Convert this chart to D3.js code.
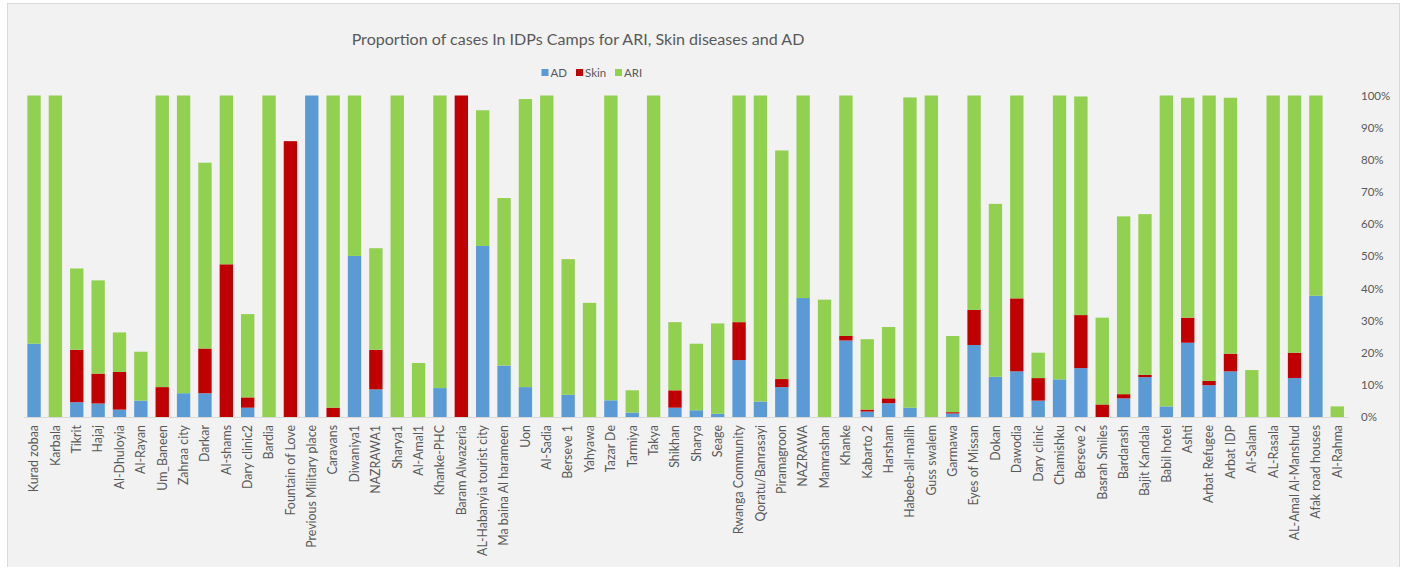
<!DOCTYPE html>
<html>
<head>
<meta charset="utf-8">
<script src="https://cdnjs.cloudflare.com/ajax/libs/d3/7.8.5/d3.min.js"></script>
<style>
  html, body { margin: 0; padding: 0; background: #ffffff; }
  svg { display: block; }
  text { font-family: Lato, "Liberation Sans", sans-serif; fill: #595959; }
</style>
</head>
<body>
<svg id="chart" width="1406" height="567"></svg>
<script>
const categories = [
  "Kurad zobaa","Karbala","Tikrit","Hajaj","Al-Dhuloyia","Al-Rayan","Um_Baneen","Zahraa city","Darkar","Al-shams",
  "Dary clinic2","Bardia","Fountain of Love","Previous Military place","Caravans","Diwaniya1","NAZRAWA1","Sharya1","Al-Amal1","Khanke-PHC",
  "Baram Alwazeria","AL-Habanyia tourist city","Ma baina Al harameen","Uon","Al-Sadia","Berseve 1","Yahyawa","Tazar De","Tarmiya","Takya",
  "Shikhan","Sharya","Seage","Rwanga Community","Qoratu/Banrasayi","Piramagroon","NAZRAWA","Mamrashan","Khanke","Kabarto 2",
  "Harsham","Habeeb-all-malih","Guss swalem","Garmawa","Eyes of Missan","Dokan","Dawodia","Dary clinic","Chamishku","Berseve 2",
  "Basrah Smiles","Bardarash","Bajit Kandala","Babil hotel","Ashti","Arbat Refugee","Arbat IDP","Al-Salam","AL-Rasala","AL-Amal Al-Manshud",
  "Afak road houses","Al-Rahma"
];
const AD = [
  22.8,0,4.6,4.2,2.3,5.1,0,7.4,7.4,0,
  2.9,0,0,100,0,50.1,8.6,0,0,9.0,
  0,53.2,16.0,9.3,0,6.9,0,5.2,1.4,0,
  2.9,2.1,1.0,17.7,4.8,9.3,37.0,0,23.8,1.7,
  4.3,2.9,0,1.1,22.4,12.5,14.2,5.1,11.7,15.2,
  0,5.8,12.4,3.3,23.1,9.9,14.2,0,0,12.1,
  37.7,0
];
const Skin = [
  0,0,16.3,9.3,11.7,0,9.3,0,13.9,47.5,
  3.2,0,85.8,0,2.9,0,12.3,0,0,0,
  100,0,0,0,0,0,0,0,0,0,
  5.4,0,0,11.8,0,2.5,0,0,1.4,0.6,
  1.5,0,0,0.4,10.9,0,22.7,7.0,0,16.5,
  3.9,1.3,0.7,0,7.8,1.3,5.5,0,0,7.9,
  0,0
];
const ARI = [
  77.2,100,25.3,29.0,12.3,15.2,90.7,92.6,57.8,52.5,
  25.9,100,0,0,97.1,49.9,31.6,100,16.8,91.0,
  0,42.2,52.1,89.6,100,42.2,35.5,94.8,6.9,100,
  21.2,20.7,28.1,70.5,95.2,71.1,63.0,36.5,74.8,21.9,
  22.2,96.5,100,23.7,66.7,53.8,63.1,7.9,88.3,68.0,
  27.0,55.3,50.0,96.7,68.4,88.8,79.6,14.6,100,80.0,
  62.3,3.3
];
const seriesNames = ["AD","Skin","ARI"];
const yTicks = [0,10,20,30,40,50,60,70,80,90,100];
const colors = {AD:"#5b9bd5", Skin:"#c00000", ARI:"#92d050"};

const rows = categories.map((c,i)=>({cat:c, AD:AD[i], Skin:Skin[i], ARI:ARI[i]}));
const stacked = d3.stack().keys(seriesNames)(rows);

const svg = d3.select("#chart");
// chart area frame
svg.append("rect").attr("x",7.5).attr("y",3.5).attr("width",1392).attr("height",580)
  .attr("fill","#f2f2f2").attr("stroke","#d9d9d9").attr("stroke-width",1);

const plot = {left: 23.3, right: 1348, top: 95.5, bottom: 417};

const x = d3.scaleBand().domain(categories).range([plot.left, plot.right]).paddingInner(0.375).paddingOuter(0.19);
const y = d3.scaleLinear().domain([0,100]).range([plot.bottom, plot.top]);

// bars
svg.append("g").selectAll("g").data(stacked).join("g")
  .attr("fill", d=>colors[d.key])
  .selectAll("rect").data(d=>d).join("rect")
  .attr("x", d=>x(d.data.cat))
  .attr("width", x.bandwidth())
  .attr("y", d=>y(d[1]))
  .attr("height", d=>Math.max(0, y(d[0]) - y(d[1])));

// baseline axis
const xAxis = svg.append("g").attr("transform", `translate(0,${plot.bottom})`)
  .call(d3.axisBottom(x).tickSize(0).tickPadding(0));
xAxis.select(".domain").attr("stroke","#d9d9d9").attr("stroke-width",1);
xAxis.selectAll(".tick text")
  .attr("transform","rotate(-90)")
  .attr("text-anchor","end")
  .attr("dy","0.35em")
  .attr("x",-8)
  .attr("y",0)
  .style("font-size","12.4px")
  .style("font-family","Lato, 'Liberation Sans', sans-serif")
  .attr("fill","#595959");

// right axis
const yAxis = svg.append("g").attr("transform", `translate(${plot.right},0)`)
  .call(d3.axisRight(y).tickValues(yTicks).tickSize(0).tickPadding(13).tickFormat(d=>d+"%"));
yAxis.select(".domain").remove();
yAxis.selectAll(".tick text")
  .style("font-size","11.5px")
  .style("font-family","Lato, 'Liberation Sans', sans-serif")
  .attr("fill","#595959");

// title
const title = svg.append("text")
  .attr("x", 578).attr("y", 45)
  .attr("text-anchor","middle")
  .style("font-size","19px")
  .text("Proportion of cases In IDPs Camps for ARI, Skin diseases and AD");
const tl = title.node().getComputedTextLength();
title.style("font-size", (19*453/tl).toFixed(2)+"px");

// legend
const legendX = [541.5, 576, 615];
const legend = svg.append("g");
seriesNames.forEach((s,i)=>{
  legend.append("rect").attr("x",legendX[i]).attr("y",69).attr("width",7).attr("height",7).attr("fill",colors[s]);
  legend.append("text").attr("x",legendX[i]+9).attr("y",76.5).style("font-size","11.5px").text(s);
});
</script>
</body>
</html>
